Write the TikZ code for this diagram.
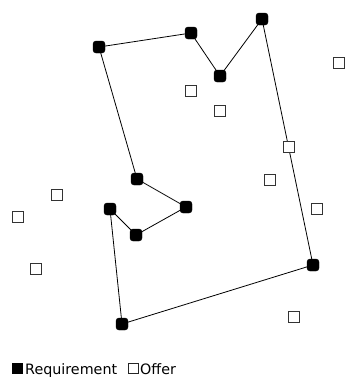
\documentclass[tikz,border=0pt]{standalone}
\usepackage{fontspec}
\setmainfont{DejaVu Sans}
\begin{document}
\begin{tikzpicture}[x=1pt,y=-1pt,
  req/.style={fill=black,draw=black,rounded corners=3pt,minimum size=12pt,inner sep=0pt,shape=rectangle},
  offer/.style={draw=black!80,line width=0.9pt,fill=white,minimum size=11.5pt,inner sep=0pt,shape=rectangle},
  link/.style={line width=0.8pt,black},
  legtext/.style={anchor=base west,inner sep=0pt,font=\fontsize{14.3}{15}\selectfont}]
\useasboundingbox (0,0) rectangle (347,378);
% requirements
\node[req] (a) at (99,47) {};
\node[req] (b) at (191,33) {};
\node[req] (c) at (220,76) {};
\node[req] (d) at (262,19) {};
\node[req] (e) at (313,265) {};
\node[req] (f) at (122,324) {};
\node[req] (g) at (110,209) {};
\node[req] (h) at (136,235) {};
\node[req] (i) at (186,207) {};
\node[req] (j) at (137,179) {};
\draw[link] (a.center) -- (b.center) -- (c.center) -- (d.center) -- (e.center) -- (f.center) -- (g.center) -- (h.center) -- (i.center) -- (j.center) -- (a.center);
% offers
\node[offer] (o1) at (339,63) {};
\node[offer] (o2) at (191,91) {};
\node[offer] (o3) at (220,111) {};
\node[offer] (o4) at (289,147) {};
\node[offer] (o5) at (270,180) {};
\node[offer] (o6) at (317,209) {};
\node[offer] (o7) at (57,195) {};
\node[offer] (o8) at (18,217) {};
\node[offer] (o9) at (36,269) {};
\node[offer] (o10) at (294,317) {};
% legend
\node[fill=black,minimum size=11pt,inner sep=0pt] (lreq) at (17.5,368.5) {};
\node[legtext] (lreqt) at (25,374) {Requirement};
\node[draw=black!85,line width=0.9pt,minimum size=10.5pt,inner sep=0pt] (loff) at (133.5,368.5) {};
\node[legtext] (lofft) at (140,374) {Offer};
\end{tikzpicture}
\end{document}
